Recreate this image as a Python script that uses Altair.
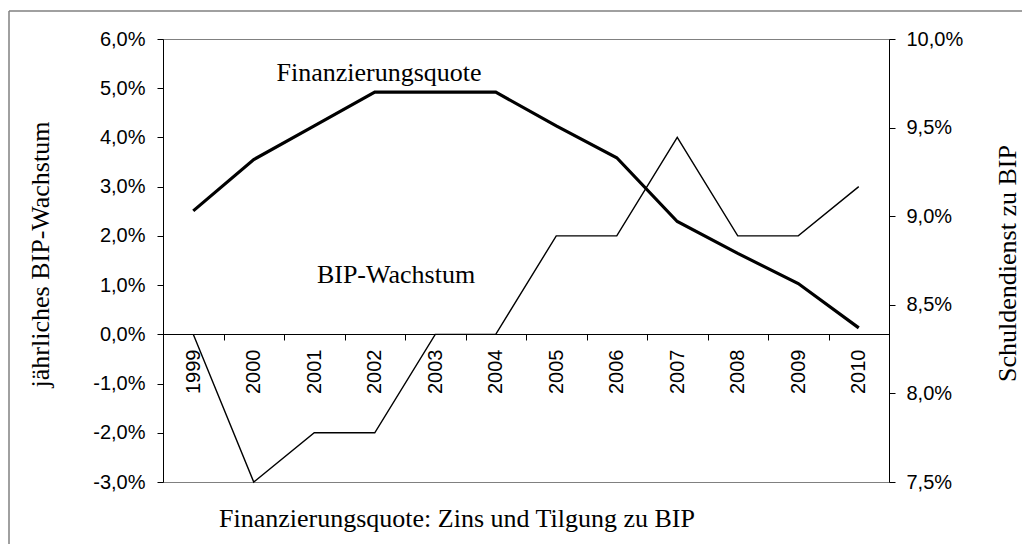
import altair as alt
import pandas as pd

years = ["1999", "2000", "2001", "2002", "2003", "2004", "2005", "2006", "2007", "2008", "2009", "2010"]
bip_wachstum = [0, -3, -2, -2, 0, 0, 2, 2, 4, 2, 2, 3]
finanzierungsquote = [9.03, 9.32, 9.51, 9.70, 9.70, 9.70, 9.51, 9.33, 8.97, 8.79, 8.62, 8.37]
left_ticks = [-3, -2, -1, 0, 1, 2, 3, 4, 5, 6]
right_ticks = [7.5, 8.0, 8.5, 9.0, 9.5, 10.0]

df = pd.DataFrame({"Jahr": years, "BIP": bip_wachstum, "FQ": finanzierungsquote})

SANS = "Liberation Sans"
SERIF = "Liberation Serif"
LBL = 20
TTL = 26
PCT = "replace(replace(format(datum.value, '.1f'), '.', ','), '\u2212', '-') + '%'"

xenc = alt.X(
    "Jahr:N",
    sort=years,
    bandPosition=0.5,
    scale=alt.Scale(type="band", paddingInner=0, paddingOuter=0),
    axis=alt.Axis(
        title=None,
        orient="bottom",
        offset=-148,
        tickBand="extent",
        labelAngle=-90,
        labelAlign="right",
        labelBaseline="middle",
        labelPadding=9,
        tickSize=6,
        labelFont=SANS,
        labelFontSize=LBL,
        labelColor="black",
        domainColor="black",
        tickColor="black",
        grid=False,
    ),
)

base = alt.Chart(df)

bip_line = base.mark_line(color="black", strokeWidth=1.4).encode(
    x=xenc,
    y=alt.Y(
        "BIP:Q",
        scale=alt.Scale(domain=[-3, 6], nice=False, zero=False),
        axis=alt.Axis(
            orient="left",
            values=left_ticks,
            labelExpr=PCT,
            tickSize=6,
            labelPadding=12,
            labelFont=SANS,
            labelFontSize=LBL,
            labelColor="black",
            domainColor="black",
            tickColor="black",
            grid=False,
            title="jährliches BIP-Wachstum",
            titleFont=SERIF,
            titleFontSize=TTL,
            titleFontWeight="normal",
            titleColor="black",
            titleAngle=-90,
            titleX=-123,
            titleY=215,
            titleAlign="center",
            titleBaseline="middle",
        ),
    ),
)

fq_line = base.mark_line(color="black", strokeWidth=3.2).encode(
    x=alt.X("Jahr:N", sort=years, bandPosition=0.5),
    y=alt.Y(
        "FQ:Q",
        scale=alt.Scale(domain=[7.5, 10], nice=False, zero=False),
        axis=alt.Axis(
            orient="right",
            values=right_ticks,
            labelExpr=PCT,
            tickSize=6,
            labelPadding=11,
            labelFont=SANS,
            labelFontSize=LBL,
            labelColor="black",
            domainColor="black",
            tickColor="black",
            grid=False,
            title="Schuldendienst zu BIP",
            titleFont=SERIF,
            titleFontSize=TTL,
            titleFontWeight="normal",
            titleColor="black",
            titleAngle=-90,
            titleX=118,
            titleY=224,
            titleAlign="center",
            titleBaseline="middle",
        ),
    ),
)

one = alt.Data(values=[{}])

def label(txt, x, y):
    return alt.Chart(one).mark_text(
        text=txt, font=SERIF, fontSize=TTL, color="black", align="center", baseline="alphabetic"
    ).encode(x=alt.value(x), y=alt.value(y))

lab_fq = label("Finanzierungsquote", 216, 42)
lab_bip = label("BIP-Wachstum", 233, 244)
caption = label("Finanzierungsquote: Zins und Tilgung zu BIP", 294, 488)

frame_top = alt.Chart(one).mark_rule(color="#808080", strokeWidth=1.5).encode(
    x=alt.value(-154), x2=alt.value(900), y=alt.value(-28)
)
frame_left = alt.Chart(one).mark_rule(color="#808080", strokeWidth=1.5).encode(
    x=alt.value(-154), y=alt.value(-28), y2=alt.value(560)
)

chart = (
    alt.layer(bip_line, fq_line, lab_fq, lab_bip, caption, frame_top, frame_left)
    .resolve_scale(y="independent")
    .properties(
        width=726,
        height=443,
        autosize=alt.AutoSizeParams(type="none"),
        padding={"left": 155, "top": 31, "right": 133, "bottom": 62},
        background="white",
    )
    .configure_view(stroke="#808080", strokeWidth=1)
)

chart.save("out.html", embed_options={"renderer": "svg", "actions": False})
